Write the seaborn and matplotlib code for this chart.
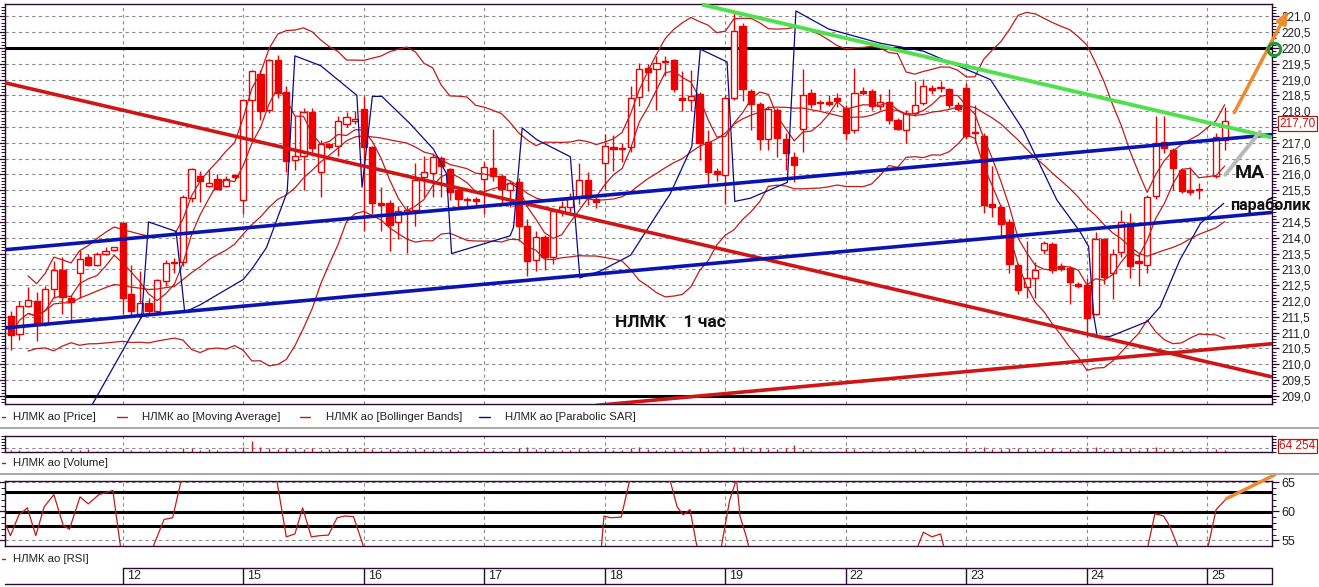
import numpy as np
import pandas as pd
import matplotlib
matplotlib.use("Agg")
import matplotlib.pyplot as plt
from matplotlib.lines import Line2D
from matplotlib.ticker import MultipleLocator, FuncFormatter, FixedLocator
import seaborn as sns

# ---------------- data ----------------
day_labels = ["12", "15", "16", "17", "18", "19", "22", "23", "24", "25"]
day_starts = [14, 28, 42, 56, 70, 84, 98, 112, 126, 140]

candle_idx = list(range(1, 140)) + [141, 142]

opens = [
    211.54, 210.95, 211.85, 212.01, 211.27, 212.39, 212.97, 212.10, 212.87, 213.40, 213.13, 213.48, 213.60,
    214.48, 212.23, 211.59, 211.94, 211.69, 212.63, 213.24, 213.22, 215.27, 215.95, 215.65, 215.86, 215.64, 215.97,
    215.18, 218.35, 219.17, 218.03, 219.61, 218.61, 216.45, 216.59, 217.97, 216.09, 216.97, 216.90, 217.60, 217.68,
    218.07, 216.86, 215.11, 215.11, 214.49, 214.80, 214.88, 215.93, 216.06, 216.52, 216.16, 215.50, 215.23, 215.23,
    215.87, 216.19, 215.95, 215.50, 215.77, 214.36, 213.30, 214.01, 213.39, 214.81, 214.97, 215.29, 215.82, 215.23,
    216.35, 216.86, 216.85, 216.86, 218.46, 219.38, 219.35, 219.60, 219.62, 218.43, 218.35, 218.53, 217.04, 216.12,
    215.98, 218.43, 220.71, 218.64, 218.23, 217.12, 218.05, 217.12, 216.56, 217.45, 218.59, 218.28, 218.30, 218.43,
    218.11, 217.42, 218.64, 218.64, 218.16, 218.29, 217.73, 217.41, 217.95, 218.27, 218.72, 218.76, 218.69, 218.21,
    218.72, 217.32, 217.21, 215.06, 214.98, 214.50, 213.15, 212.43, 212.74, 213.60, 213.81, 213.11, 213.04, 212.55,
    212.51, 211.60, 213.97, 212.87, 213.54, 214.47, 213.25, 213.15, 215.32, 217.02, 216.77, 216.13, 215.51, 215.51,
    215.96, 217.09,
]
highs = [
    211.69, 212.01, 212.44, 212.29, 212.47, 213.27, 213.39, 212.20, 213.62, 213.50, 213.55, 213.71, 213.72,
    214.50, 213.14, 212.95, 212.10, 212.70, 213.30, 213.35, 215.34, 216.20, 216.10, 216.17, 216.00, 215.95, 216.00,
    218.40, 219.30, 219.30, 219.65, 219.78, 218.80, 217.84, 218.11, 218.10, 217.10, 217.00, 217.86, 217.97, 218.00,
    218.48, 216.90, 215.60, 215.20, 215.00, 215.00, 216.35, 216.60, 216.67, 216.60, 216.20, 215.60, 215.30, 215.30,
    216.40, 217.44, 216.00, 215.80, 215.90, 214.60, 214.20, 214.10, 214.92, 215.15, 215.40, 216.35, 216.08, 215.30,
    217.29, 217.25, 217.00, 218.80, 219.54, 219.49, 219.75, 219.76, 219.65, 219.28, 219.30, 218.60, 217.41, 216.20,
    218.50, 221.09, 220.80, 218.70, 218.30, 218.16, 218.10, 217.30, 216.72, 219.35, 218.69, 218.35, 218.50, 218.59,
    218.20, 219.38, 218.78, 218.70, 218.53, 218.69, 217.80, 218.05, 218.96, 219.01, 218.82, 218.95, 218.74, 218.30,
    218.90, 218.20, 217.30, 216.26, 215.05, 214.60, 213.20, 213.91, 213.22, 213.90, 213.85, 213.20, 213.10, 212.60,
    212.74, 214.18, 214.00, 213.65, 214.87, 214.79, 213.49, 215.35, 217.85, 217.85, 216.85, 216.20, 216.23, 215.72,
    217.30, 218.12,
]
lows = [
    210.45, 210.77, 211.80, 210.73, 211.20, 212.10, 211.59, 211.37, 212.10, 213.10, 213.10, 213.45, 213.58,
    211.59, 211.48, 211.46, 211.60, 211.60, 212.47, 212.90, 213.10, 215.13, 215.13, 215.60, 215.50, 215.60, 215.85,
    214.76, 217.10, 217.73, 217.95, 218.43, 216.09, 216.13, 215.50, 216.60, 215.29, 216.80, 216.60, 217.50, 217.60,
    214.22, 214.76, 214.22, 213.59, 213.96, 213.53, 214.38, 215.29, 215.29, 215.29, 215.20, 214.90, 215.00, 215.00,
    214.76, 215.80, 215.07, 214.97, 213.90, 212.79, 212.95, 212.97, 213.16, 214.70, 214.80, 215.07, 215.02, 214.95,
    215.55, 216.10, 216.40, 216.70, 218.16, 218.64, 218.05, 219.10, 218.60, 218.00, 218.00, 216.46, 215.69, 215.80,
    215.07, 218.37, 218.32, 217.41, 216.78, 216.78, 216.56, 216.14, 215.77, 216.72, 218.10, 218.05, 218.15, 218.14,
    217.10, 217.31, 218.50, 218.05, 218.05, 217.60, 217.40, 217.01, 217.84, 218.20, 218.53, 218.60, 218.10, 218.00,
    217.13, 217.00, 214.77, 214.66, 214.00, 212.90, 212.21, 212.11, 212.11, 213.50, 212.90, 212.95, 211.89, 212.40,
    210.85, 211.57, 212.53, 212.05, 213.38, 212.74, 212.48, 212.87, 215.21, 216.68, 215.51, 215.40, 215.35, 215.24,
    215.90, 216.79,
]
closes = [
    210.93, 211.85, 212.04, 211.27, 212.39, 212.97, 212.12, 211.97, 213.32, 213.13, 213.48, 213.59, 213.71,
    212.10, 211.69, 211.94, 211.69, 212.65, 213.19, 213.19, 215.29, 216.18, 215.79, 215.73, 215.54, 215.87, 215.93,
    218.34, 219.26, 218.00, 219.61, 218.59, 216.44, 216.59, 217.97, 216.83, 216.96, 216.88, 217.68, 217.82, 217.75,
    216.86, 215.11, 215.05, 214.40, 214.84, 214.88, 215.84, 216.09, 216.56, 216.28, 215.45, 215.22, 215.18, 215.16,
    216.24, 215.95, 215.54, 215.73, 214.38, 213.27, 214.01, 213.40, 214.84, 214.97, 215.26, 215.82, 215.29, 215.13,
    216.90, 216.80, 216.82, 218.43, 219.35, 219.24, 219.51, 219.55, 218.71, 218.35, 218.48, 217.01, 216.09, 216.00,
    218.43, 220.55, 218.69, 218.24, 217.12, 218.07, 217.16, 216.67, 216.30, 218.50, 218.24, 218.25, 218.22, 218.31,
    217.31, 218.59, 218.59, 218.18, 218.29, 217.71, 217.44, 217.95, 218.21, 218.80, 218.67, 218.72, 218.21, 218.07,
    217.21, 217.30, 215.03, 214.96, 214.45, 213.17, 212.34, 212.72, 212.98, 213.83, 212.98, 213.00, 212.59, 212.48,
    211.47, 213.97, 212.77, 213.49, 214.50, 213.11, 213.20, 215.28, 217.00, 216.84, 216.20, 215.48, 215.46, 215.50,
    217.19, 217.69,
]
volumes = [
    12, 8, 5, 5, 4, 6, 12, 15, 8, 14, 6, 5, 4,
    18, 8, 6, 10, 6, 8, 5, 22, 25, 10, 14, 8, 6, 5,
    30, 70, 28, 22, 18, 20, 14, 16, 22, 12, 18, 10, 20, 8,
    25, 18, 12, 16, 10, 8, 18, 14, 10, 12, 16, 12, 8, 6,
    14, 10, 8, 6, 22, 26, 18, 14, 10, 8, 12, 16, 8, 5,
    18, 10, 8, 22, 26, 16, 12, 8, 14, 10, 8, 20, 18, 10,
    22, 30, 28, 16, 20, 14, 18, 22, 40, 18, 8, 6, 5, 5,
    14, 16, 6, 8, 5, 10, 6, 12, 14, 10, 5, 4, 10, 6,
    22, 10, 28, 18, 16, 22, 20, 14, 12, 18, 20, 10, 16, 8,
    24, 26, 18, 14, 20, 22, 12, 24, 26, 16, 14, 8, 10, 6,
    14, 10,
]

sar_x = [10.2, 16.2, 17.0, 20.2, 21.2, 23.0, 28.0, 29.1, 30.7, 33.1, 34.0, 37.0, 41.2, 41.8,
         43.0, 44.1, 47.4, 50.1, 51.6, 52.2, 59.0, 59.4, 60.4, 62.1, 66.0, 67.1, 69.5, 73.0,
         77.6, 80.1, 81.1, 84.2, 85.1, 86.9, 91.2, 92.2, 96.0, 102.0, 107.0, 114.8, 118.6,
         122.5, 125.2, 126.2, 126.4, 126.8, 127.2, 128.7, 133.0, 134.5, 136.8, 139.2, 141.9]
sar_y = [208.6, 211.5, 214.5, 214.2, 211.65, 211.88, 212.68, 213.05, 213.69, 215.45, 219.75, 219.44, 218.5, 215.6,
         218.47, 218.47, 217.6, 216.8, 216.03, 213.5, 214.06, 214.33, 217.47, 217.1, 216.56, 212.73, 212.95, 213.45,
         215.39, 216.88, 219.96, 219.56, 215.15, 215.25, 215.75, 221.17, 220.6, 220.15, 219.9, 219.0, 217.41,
         215.2, 214.19, 213.72, 212.98, 211.51, 210.88, 210.88, 211.35, 211.82, 213.30, 214.46, 215.09]

rsi_x = [0.48, 0.96, 1.94, 2.93, 3.9, 4.88, 6.0, 7.08, 7.81, 9.04, 10.0, 11.24, 12.85, 13.92,
         17.3, 18.8, 19.8, 21.2, 31.6, 33.0, 34.0, 34.9, 35.9, 36.9, 37.9, 38.9, 39.8, 40.8, 41.8, 42.3,
         69.5, 69.9, 70.7, 71.9, 73.3, 77.1, 78.4, 79.1, 79.9, 80.6, 81.0,
         83.3, 84.5, 85.3, 85.7, 86.5, 87.0, 106.1, 107.0, 108.0, 109.0, 109.7,
         132.8, 133.9, 134.9, 135.6, 136.5, 137.0, 139.8, 141.0, 142.2]
rsi_y = [57.5, 55.8, 59.4, 60.6, 55.8, 60.8, 62.9, 57.6, 56.9, 62.5, 61.3, 62.9, 63.6, 52.0,
         53.0, 58.6, 58.9, 68.0, 68.0, 55.6, 56.1, 60.6, 55.6, 55.8, 55.9, 58.9, 59.2, 59.1, 54.7, 52.0,
         52.0, 59.2, 58.9, 59.0, 68.0, 68.0, 60.8, 59.4, 60.3, 54.7, 52.0,
         52.0, 61.9, 65.6, 59.2, 55.3, 52.0, 53.0, 56.4, 55.6, 56.1, 52.0,
         52.0, 59.6, 59.2, 57.5, 54.2, 52.0, 52.0, 60.3, 62.2]
rsi_levels = [63.3, 59.85, 57.4]

red_down_line = [(0.3, 218.9), (147.5, 209.6)]
red_up_line = [(69.0, 208.70), (147.5, 210.65)]
blue_up_line = [(0.3, 213.62), (147.5, 217.26)]
blue_low_line = [(0.3, 211.15), (147.5, 214.80)]
green_line = [(81.3, 221.37), (147.5, 217.17)]
orange_arrow = [(142.96, 217.88), (149.5, 221.25)]
gray_line = [(142.07, 215.99), (146.1, 217.35)]
rsi_orange = [(142.2, 62.2), (147.8, 66.3)]
last_price = 217.70
last_volume = "64 254"

# ---------------- style ----------------
sns.set_style("white")
plt.rcParams["font.family"] = ["Liberation Sans", "DejaVu Sans"]

W, H = 1319, 587
fig = plt.figure(figsize=(W / 100, H / 100), dpi=100)
fig.patch.set_facecolor("white")


def rect(x0, y0, x1, y1):
    return [x0 / W, 1 - y1 / H, (x1 - x0) / W, (y1 - y0) / H]


def fx(x):
    return x / W


def fy(y):
    return 1 - y / H


FRAME = "#2a0a30"
RED = "#ee0000"
IND = "#c41a1a"
XLIM = (0.325, 147.5)

ax = fig.add_axes(rect(5, 4, 1272, 403.5))
axv = fig.add_axes(rect(5, 436, 1272, 451.5))
axr = fig.add_axes(rect(5, 481, 1272, 545.5))
axd = fig.add_axes(rect(5, 568, 1272, 584))

for a in (ax, axv, axr):
    a.set_xlim(*XLIM)
    a.set_facecolor("white")
    for s in a.spines.values():
        s.set_color(FRAME)
        s.set_linewidth(1.0)
    a.set_xticks([])
    for d in day_starts:
        a.axvline(d, color="#8a8a8a", lw=0.8, ls=(0, (3, 3)), zorder=1)

# ---------------- main price panel ----------------
ax.set_ylim(208.76, 221.39)
for lv in np.arange(209.0, 221.01, 0.5):
    ax.axhline(lv, color="#8a8a8a", lw=0.8, ls=(0, (3, 3)), zorder=1)
ax.axhline(220.0, color="black", lw=2.2, zorder=2)
ax.axhline(209.0, color="black", lw=2.2, zorder=2)

df = pd.DataFrame({"i": candle_idx, "open": opens, "high": highs, "low": lows, "close": closes})
up = df["close"] >= df["open"]
body_lo = np.minimum(df["open"], df["close"])
body_h = np.maximum((df["close"] - df["open"]).abs(), 0.03)

ax.vlines(df["i"], df["low"], df["high"], color=RED, lw=1.0, zorder=3)
ax.bar(df["i"][up], body_h[up], bottom=body_lo[up], width=0.72, facecolor="white",
       edgecolor=RED, linewidth=1.0, zorder=4)
ax.bar(df["i"][~up], body_h[~up], bottom=body_lo[~up], width=0.72, facecolor=RED,
       edgecolor=RED, linewidth=1.0, zorder=4)

cs = pd.Series(closes)
ma = cs.rolling(5, min_periods=1).mean()
mid = cs.rolling(20, min_periods=3).mean()
sd = cs.rolling(20, min_periods=3).std()
ind = pd.DataFrame({"i": candle_idx, "ma": ma, "mid": mid, "upper": mid + 2 * sd, "lower": mid - 2 * sd})
for col in ["ma", "mid", "upper", "lower"]:
    sns.lineplot(data=ind, x="i", y=col, ax=ax, color=IND, lw=0.9, estimator=None, zorder=5)

sar = pd.DataFrame({"i": sar_x, "v": sar_y})
sns.lineplot(data=sar, x="i", y="v", ax=ax, color="#0a0a8a", lw=0.9, estimator=None, sort=False, zorder=5)


def seg(a, pts, **kw):
    xs = [p[0] for p in pts]
    ys = [p[1] for p in pts]
    a.plot(xs, ys, **kw)


seg(ax, red_down_line, color="#d01515", lw=2.6, zorder=6, solid_capstyle="butt")
seg(ax, red_up_line, color="#d01515", lw=2.6, zorder=6, solid_capstyle="butt")
seg(ax, blue_up_line, color="#0a14b0", lw=2.6, zorder=6, solid_capstyle="butt")
seg(ax, blue_low_line, color="#0a14b0", lw=2.6, zorder=6, solid_capstyle="butt")
seg(ax, green_line, color="#4ee04e", lw=2.8, zorder=6, solid_capstyle="butt", clip_on=False)
seg(ax, gray_line, color="#b8b8b8", lw=2.8, zorder=7, clip_on=False)

ax.annotate("", xy=orange_arrow[1], xytext=orange_arrow[0], annotation_clip=False, zorder=8,
            arrowprops=dict(arrowstyle="-|>,head_length=0.7,head_width=0.3", color="#f08a2a", lw=2.5))
ax.plot([147.75], [219.97], marker="o", ms=9, mfc="none", mec="#1a9a3a", mew=2.2, clip_on=False, zorder=9)

ax.text(71.2, 211.31, "НЛМК    1 час", fontsize=12.5, fontweight="bold", family=["Roboto", "DejaVu Sans"],
        ha="left", va="center", color="#101010", zorder=9)
ax.text(143.2, 216.04, "МА", fontsize=14, fontweight="bold", family=["Roboto", "DejaVu Sans"],
        ha="left", va="center", color="#101010", zorder=9, clip_on=False)
ax.text(142.6, 215.05, "параболик", fontsize=11.5, fontweight="bold", family=["Roboto", "DejaVu Sans"],
        ha="left", va="center", color="#101010", zorder=9, clip_on=False)


def price_fmt(v, p):
    if abs(v - 217.5) < 1e-6 or abs(v - 215.0) < 1e-6:
        return ""
    return f"{v:.1f}".replace(".", ",")


ax.yaxis.tick_right()
ax.yaxis.set_major_locator(MultipleLocator(0.5))
ax.yaxis.set_minor_locator(MultipleLocator(0.1))
ax.yaxis.set_major_formatter(FuncFormatter(price_fmt))
ax.tick_params(axis="y", which="major", left=True, right=True, labelleft=False, labelright=True,
               direction="out", length=5, width=0.9, color=FRAME, labelsize=8.5, pad=2, labelcolor="#202020")
ax.tick_params(axis="y", which="minor", left=True, right=True, direction="out", length=3, width=0.7, color=FRAME)
ax.set_xlabel("")
ax.set_ylabel("")
ax.text(148.35, 217.60, f"{last_price:.2f}".replace(".", ","), fontsize=8.5, color="#d01010", ha="left",
        va="center", clip_on=False, zorder=10,
        bbox=dict(boxstyle="square,pad=0.12", facecolor="white", edgecolor="#a02020", lw=0.9))

# ---------------- volume panel ----------------
axv.set_ylim(0, 100)
axv.axhline(20.6, color="#8a8a8a", lw=0.8, ls=(0, (3, 3)), zorder=1)
axv.vlines(candle_idx, 0, volumes, color="#d02020", lw=1.0, zorder=3)
axv.yaxis.tick_right()
axv.yaxis.set_major_locator(FixedLocator([]))
axv.yaxis.set_minor_locator(MultipleLocator(20))
axv.tick_params(axis="y", which="minor", left=True, right=True, direction="out", length=3, width=0.7, color=FRAME)
axv.set_ylabel("")
axv.text(148.35, 35, last_volume, fontsize=8.5, color="#d01010", ha="left", va="center", clip_on=False,
         bbox=dict(boxstyle="square,pad=0.12", facecolor="white", edgecolor="#a02020", lw=0.9))

# ---------------- RSI panel ----------------
axr.set_ylim(54.1, 65.25)
for lv in [55, 60, 65]:
    axr.axhline(lv, color="#8a8a8a", lw=0.8, ls=(0, (3, 3)), zorder=1)
for lv in rsi_levels:
    axr.axhline(lv, color="black", lw=2.2, zorder=2)
rsi = pd.DataFrame({"i": rsi_x, "v": rsi_y})
sns.lineplot(data=rsi, x="i", y="v", ax=axr, color="#c41a1a", lw=0.9, estimator=None, sort=False, zorder=4)
seg(axr, rsi_orange, color="#f08a2a", lw=2.5, zorder=6, clip_on=False)
axr.yaxis.tick_right()
axr.yaxis.set_major_locator(FixedLocator([55, 60, 65]))
axr.yaxis.set_minor_locator(MultipleLocator(1))
axr.tick_params(axis="y", which="major", left=True, right=True, labelleft=False, labelright=True,
                direction="out", length=5, width=0.9, color=FRAME, labelsize=9, pad=2, labelcolor="#202020")
axr.tick_params(axis="y", which="minor", left=True, right=True, direction="out", length=3, width=0.7, color=FRAME)
axr.set_xlabel("")
axr.set_ylabel("")

# ---------------- date axis ----------------
axd.set_xlim(*XLIM)
axd.set_ylim(0, 1)
axd.axis("off")
axd.plot([day_starts[0], XLIM[1]], [1, 1], color=FRAME, lw=1.0, clip_on=False)
axd.plot([XLIM[0], XLIM[1]], [0, 0], color=FRAME, lw=1.0, clip_on=False)
axd.plot([XLIM[1], XLIM[1]], [0, 1], color=FRAME, lw=1.0, clip_on=False)
for d, lab in zip(day_starts, day_labels):
    axd.plot([d, d], [0, 1], color=FRAME, lw=1.0, clip_on=False)
    axd.text(d + 0.45, 0.5, lab, fontsize=9, ha="left", va="center", color="#202020")

# ---------------- legend rows & separators ----------------
def legend_dash(x0, x1, y, color):
    fig.add_artist(Line2D([fx(x0), fx(x1)], [fy(y), fy(y)], color=color, lw=1.0, transform=fig.transFigure))


LFS = 8.2
legend_dash(2, 5, 417, RED)
fig.text(fx(12.6), fy(417), "НЛМК ао [Price]", fontsize=LFS, va="center", color="#202020")
legend_dash(117, 127, 417, IND)
fig.text(fx(142), fy(417), "НЛМК ао [Moving Average]", fontsize=LFS, va="center", color="#202020")
legend_dash(300, 310, 417, IND)
fig.text(fx(326), fy(417), "НЛМК ао [Bollinger Bands]", fontsize=LFS, va="center", color="#202020")
legend_dash(479, 490, 417, "#0a0a8a")
fig.text(fx(505), fy(417), "НЛМК ао [Parabolic SAR]", fontsize=LFS, va="center", color="#202020")

legend_dash(2, 5, 463, RED)
fig.text(fx(12.6), fy(463), "НЛМК ао [Volume]", fontsize=LFS, va="center", color="#202020")
legend_dash(2, 5, 559, RED)
fig.text(fx(12.6), fy(559), "НЛМК ао [RSI]", fontsize=LFS, va="center", color="#202020")

for yy in (428, 474):
    fig.add_artist(Line2D([0, 1], [fy(yy), fy(yy)], color="#a8a8a8", lw=1.4, transform=fig.transFigure))

fig.savefig("out.png", dpi=100, facecolor="white")
